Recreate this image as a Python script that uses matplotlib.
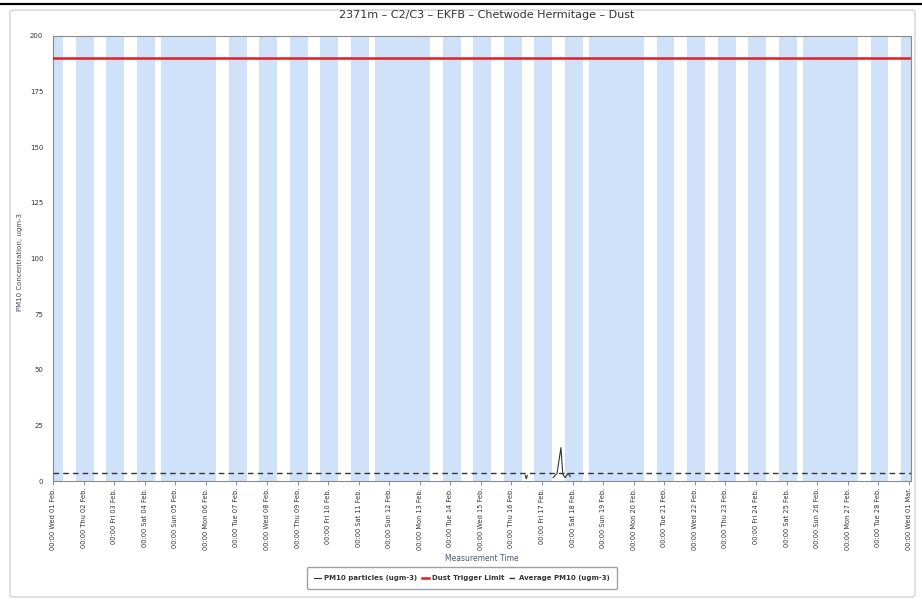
import matplotlib
matplotlib.use("Agg")
import matplotlib.pyplot as plt
from matplotlib.patches import FancyBboxPatch
from matplotlib.lines import Line2D
import pandas as pd

# ---- data ----
start = pd.Timestamp("2023-02-01 00:00")
end = pd.Timestamp("2023-03-01 01:45")

# working hours (white), by weekday: Mon=0 ... Sun=6
work_hours = {0: (8, 18), 1: (8, 18), 2: (8, 18), 3: (8, 18), 4: (8, 18),
              5: (8, 13)}

# PM10 readings come in two short bursts
pm10_times_a = ["2023-02-16 10:50", "2023-02-16 11:40", "2023-02-16 12:30"]
pm10_values_a = [2.5, 1.0, 2.5]
pm10_times_b = ["2023-02-17 08:40", "2023-02-17 11:50", "2023-02-17 14:50",
                "2023-02-17 16:20", "2023-02-17 18:10", "2023-02-17 20:30",
                "2023-02-17 22:10"]
pm10_values_b = [1.5, 3.5, 15.0, 3.0, 1.5, 3.5, 2.0]

trigger_limit = 190
average_pm10 = 3.6

tick_days = pd.date_range("2023-02-01", "2023-03-01", freq="D")

# ---- figure ----
W, H = 922, 605
fig = plt.figure(figsize=(W / 100, H / 100), dpi=100)

# outer frame + top rule
frame = FancyBboxPatch((10 / W, 8 / H), 905 / W, 587 / H,
                       boxstyle="round,pad=0,rounding_size=0.004",
                       transform=fig.transFigure, facecolor="white",
                       edgecolor="#c8c8c8", lw=0.8, zorder=-10)
fig.add_artist(frame)
fig.add_artist(Line2D([0, 1], [1 - 4 / H, 1 - 4 / H], color="black", lw=1.6,
                      transform=fig.transFigure))

ax = fig.add_axes([53 / W, 1 - 481 / H, (911 - 53) / W, (481 - 36) / H])
ax.set_zorder(1)

# out-of-hours shading (blue)
blue = "#cfe2f9"
day = start.normalize()
prev_end = start
while day <= end:
    wh = work_hours.get(day.weekday())
    if wh is not None:
        ws = day + pd.Timedelta(hours=wh[0])
        we = day + pd.Timedelta(hours=wh[1])
        ax.axvspan(prev_end, ws, color=blue, lw=0, zorder=0)
        prev_end = we
    day += pd.Timedelta(days=1)
ax.axvspan(prev_end, end, color=blue, lw=0, zorder=0)

# series
ax.plot(pd.to_datetime(pm10_times_a), pm10_values_a, color="#333333", lw=0.8,
        zorder=3)
ax.plot(pd.to_datetime(pm10_times_b), pm10_values_b, color="#333333", lw=0.8,
        label="PM10 particles (ugm-3)", zorder=3)
ax.axhline(trigger_limit, color="#e02020", lw=1.8, label="Dust Trigger Limit", zorder=3)
ax.axhline(average_pm10, color="#333333", lw=1.0, ls=(0, (4, 3)),
           label="Average PM10 (ugm-3)", zorder=3)

ax.set_xlim(start, end)
ax.set_ylim(0, 200)
ax.set_yticks(range(0, 201, 25))
ax.set_xticks(tick_days)
ax.set_xticklabels([d.strftime("%H:%M %a %d %b.") for d in tick_days],
                   rotation=90, fontsize=4.8, color="#333333")
ax.tick_params(axis="y", labelsize=5, colors="#333333", length=0, pad=7)
ax.tick_params(axis="x", length=3, width=0.6, color="#777777", pad=2)
for s in ax.spines.values():
    s.set_color("#8a8a8a")
    s.set_linewidth(0.8)

ax.set_ylabel("PM10 Concentration, ugm-3", fontsize=5, color="#444466")
ax.yaxis.set_label_coords((23 - 53) / (911 - 53), (481 - 262) / (481 - 36))
ax.set_xlabel("Measurement Time", fontsize=5.5, color="#4a5a6a")
ax.xaxis.set_label_coords(0.5, (481 - 554) / (481 - 36))
fig.text(487 / W, 1 - 15 / H, "2371m \u2013 C2/C3 \u2013 EKFB \u2013 Chetwode Hermitage \u2013 Dust",
         ha="center", va="center", fontsize=8, color="#333333")

leg = fig.legend(loc="center", bbox_to_anchor=(462 / W, 1 - 578 / H), ncol=3,
                 fontsize=5, frameon=True, fancybox=True, edgecolor="#888888",
                 handlelength=1.0, columnspacing=0.7, handletextpad=0.4,
                 borderpad=1.1)
for txt in leg.get_texts():
    txt.set_fontweight("bold")
    txt.set_color("#333333")

fig.savefig("out.png", dpi=100)
